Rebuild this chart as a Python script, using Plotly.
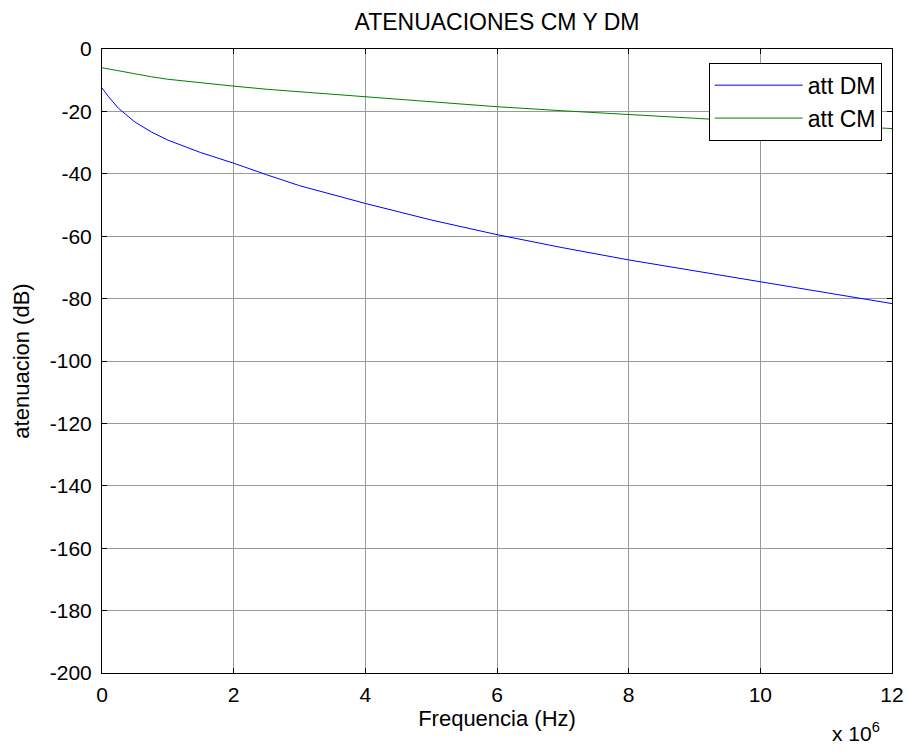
import plotly.graph_objects as go

freq_mhz = [0, 0.1, 0.25, 0.5, 0.75, 1.0, 1.5, 2.0, 2.5, 3.0, 4.0, 5.0, 6.0, 7.0, 8.0, 9.0, 10.0, 11.0, 12.0]
att_dm = [-12.5, -15.3, -19.0, -23.4, -26.6, -29.2, -33.2, -36.6, -40.3, -43.8, -49.5, -54.8, -59.5, -63.7, -67.6, -71.2, -74.6, -78.1, -81.6]
att_cm = [-6.0, -6.4, -7.0, -7.9, -8.9, -9.7, -10.9, -11.9, -12.9, -13.7, -15.4, -17.0, -18.5, -19.8, -20.9, -22.2, -23.4, -24.4, -25.5]

x_ticks = [0, 2, 4, 6, 8, 10, 12]
y_ticks = [0, -20, -40, -60, -80, -100, -120, -140, -160, -180, -200]

font_family = "Liberation Sans, Arial, sans-serif"

fig = go.Figure()
fig.add_trace(go.Scatter(x=[f * 1e6 for f in freq_mhz], y=att_dm, mode="lines",
                         name="att DM", line=dict(color="#0000ff", width=1)))
fig.add_trace(go.Scatter(x=[f * 1e6 for f in freq_mhz], y=att_cm, mode="lines",
                         name="att CM", line=dict(color="#008000", width=1)))

axis_common = dict(showline=True, linecolor="black", linewidth=1, mirror="ticks",
                   ticks="inside", ticklen=5, tickcolor="black", automargin=False,
                   showgrid=True, gridcolor="#9a9a9a", gridwidth=1, zeroline=False,
                   tickfont=dict(family=font_family, size=21, color="black"))

fig.update_xaxes(range=[0, 12e6], tickvals=[t * 1e6 for t in x_ticks],
                 ticktext=[str(t) for t in x_ticks], ticklabelstandoff=3,
                 title=dict(text="Frequencia (Hz)", font=dict(family=font_family, size=22, color="black"), standoff=4),
                 **axis_common)
fig.update_yaxes(range=[-200, 0], tickvals=y_ticks, ticktext=[str(t) for t in y_ticks],
                 ticklabelstandoff=5,
                 title=dict(text="atenuacion (dB)", font=dict(family=font_family, size=22, color="black"), standoff=14),
                 **axis_common)

fig.update_layout(
    width=909, height=751,
    margin=dict(l=102, r=17, t=49, b=78),
    paper_bgcolor="white", plot_bgcolor="white",
    title=dict(text="ATENUACIONES CM Y DM", xref="paper", x=0.5, xanchor="center",
               yref="container", y=1 - 22 / 751, yanchor="middle",
               font=dict(family=font_family, size=23, color="black")),
    legend=dict(x=0.987, y=0.978, xanchor="right", yanchor="top",
                bgcolor="white", bordercolor="black", borderwidth=1,
                font=dict(family=font_family, size=23, color="black"),
                itemwidth=88),
    showlegend=True,
    annotations=[dict(text="x 10<sup>6</sup>", x=1.0, y=0, xref="paper", yref="paper",
                      xanchor="right", yanchor="top", yshift=-44, xshift=-10, showarrow=False,
                      font=dict(family=font_family, size=21, color="black"))],
)

fig.write_html("out.html", config={"displayModeBar": False},
               post_script="document.body.style.margin='0';")
